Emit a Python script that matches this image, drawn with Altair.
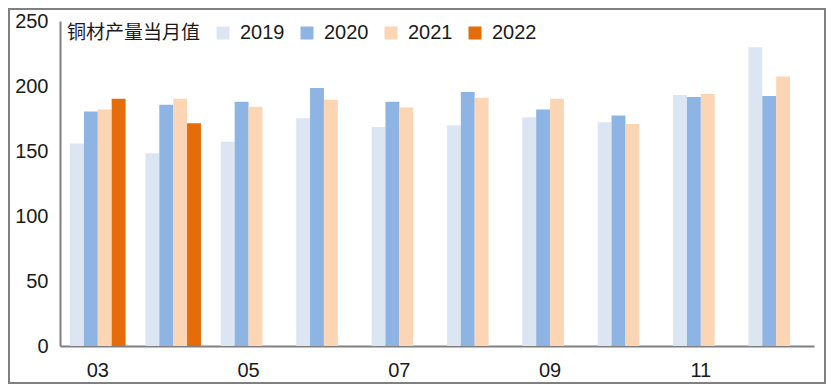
import altair as alt
import pandas as pd

months = ["03", "04", "05", "06", "07", "08", "09", "10", "11", "12"]
years = ["2019", "2020", "2021", "2022"]
v2019 = [155.7, 148.2, 157.2, 175.1, 168.4, 169.9, 175.9, 172.2, 193.1, 229.8]
v2020 = [180.4, 185.6, 187.9, 198.4, 187.9, 195.4, 181.9, 177.4, 191.6, 192.4]
v2021 = [181.9, 190.1, 184.1, 189.4, 183.4, 190.9, 190.1, 170.7, 193.9, 207.3]
v2022 = [190.1, 171.4]
colors = ["#DCE6F2", "#8EB4E3", "#FCD5B5", "#E46C0A"]
legend_title = "铜材产量当月值"
x_label_values = ["03", "05", "07", "09", "11"]
y_ticks = [0, 50, 100, 150, 200, 250]

rows = []
for yr, vals in zip(years, [v2019, v2020, v2021, v2022]):
    for m, v in zip(months, vals):
        rows.append({"month": m, "year": yr, "value": v})
df = pd.DataFrame(rows)

CJK = "Noto Sans CJK SC"
NUM = "Liberation Sans"
GRAY = "#808080"
TXT = "#1a1a1a"
TOP = 12
W, H = 754, 325
BOTTOM = 376 - (1 + TOP) - H

bars = alt.Chart(df).mark_bar(opacity=1).encode(
    x=alt.X("month:N", sort=months,
            scale=alt.Scale(domain=months, paddingInner=0.263, paddingOuter=0.133),
            axis=alt.Axis(title=None, values=x_label_values, labelAngle=0, ticks=False,
                          domainColor=GRAY, domainWidth=2, labelFont=NUM,
                          labelFontSize=20, labelColor=TXT, labelPadding=14)),
    xOffset=alt.XOffset("year:N", scale=alt.Scale(domain=years, paddingInner=0, paddingOuter=0)),
    y=alt.Y("value:Q", scale=alt.Scale(domain=[0, 250], nice=False),
            axis=alt.Axis(title=None, values=y_ticks, ticks=False, grid=False,
                          domainColor=GRAY, domainWidth=2, labelFont=NUM,
                          labelFontSize=20, labelColor=TXT, labelPadding=12)),
    color=alt.Color("year:N", scale=alt.Scale(domain=years, range=colors),
                    legend=alt.Legend(title=legend_title, orient="none", legendX=7, legendY=2,
                                      direction="horizontal", titleOrient="left",
                                      symbolType="square", symbolSize=169, symbolStrokeWidth=0,
                                      symbolOpacity=1,
                                      labelFont=NUM, labelFontSize=20, labelColor=TXT,
                                      titleFont=CJK, titleFontSize=19, titleFontWeight="normal",
                                      titleColor=TXT, columnPadding=12, labelOffset=7,
                                      titlePadding=12, padding=0)),
)

frame = alt.Chart(alt.Data(values=[{}])).mark_rect(
    fillOpacity=0, stroke=GRAY, strokeWidth=2
).encode(
    x=alt.value(-51), x2=alt.value(765), y=alt.value(-TOP), y2=alt.value(H + BOTTOM - 1)
)

chart = alt.layer(bars, frame).properties(
    width=W, height=H,
    autosize=alt.AutoSizeParams(type="none"),
    padding={"left": 52, "top": 1 + TOP, "right": 12, "bottom": BOTTOM},
).configure_view(stroke=None)

chart.save("out.html", embed_options={"renderer": "svg", "actions": False})
